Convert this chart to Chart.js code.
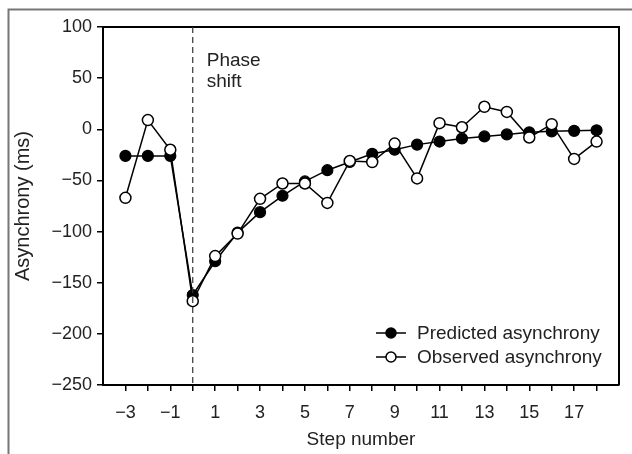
<!DOCTYPE html>
<html>
<head>
<meta charset="utf-8">
<script src="https://cdn.jsdelivr.net/npm/chart.js@4.4.1/dist/chart.umd.min.js"></script>
<style>
  html, body { margin: 0; padding: 0; background: #fff; }
  #wrap { width: 632px; height: 454px; position: relative; }
</style>
</head>
<body>
<div id="wrap"><canvas id="chart"></canvas></div>
<script>
// step numbers relative to the phase shift
const steps = [-3, -2, -1, 0, 1, 2, 3, 4, 5, 6, 7, 8, 9, 10, 11, 12, 13, 14, 15, 16, 17, 18];
const predicted = [-26, -26, -26, -162, -129, -101, -81, -65, -51, -40, -32, -24, -20, -15, -12, -9, -7, -5, -3, -2, -1.5, -1];
const observed = [-67, 9, -20, -168, -124, -102, -68, -53, -53, -72, -31, -32, -14, -48, 6, 2, 22, 17, -8, 5, -29, -12];
const xTickLabels = [-3, -1, 1, 3, 5, 7, 9, 11, 13, 15, 17];
const seriesNames = ['Predicted asynchrony', 'Observed asynchrony'];

const FONT = 'Liberation Sans, Arial, sans-serif';
const minus = v => String(v).replace('-', '\u2212');

// frame, top/right border, phase-shift marker and legend
const extras = {
  id: 'extras',
  beforeDraw(chart) {
    const ctx = chart.ctx;
    ctx.save();
    ctx.strokeStyle = '#777';
    ctx.lineWidth = 2;
    ctx.strokeRect(8.5, 9.5, 700, 600);
    ctx.restore();
  },
  afterDraw(chart) {
    const {ctx, chartArea: a, scales: {x, y}} = chart;
    ctx.save();
    // top + right edges of the plot box
    ctx.strokeStyle = '#000';
    ctx.lineWidth = 2;
    ctx.beginPath();
    ctx.moveTo(a.left, a.top);
    ctx.lineTo(a.right, a.top);
    ctx.lineTo(a.right, a.bottom);
    ctx.stroke();

    // phase shift dashed line
    const px = x.getPixelForValue(0);
    ctx.strokeStyle = '#333';
    ctx.lineWidth = 1.2;
    ctx.setLineDash([6, 4]);
    ctx.beginPath();
    ctx.moveTo(px, a.top);
    ctx.lineTo(px, a.bottom);
    ctx.stroke();
    ctx.setLineDash([]);

    ctx.fillStyle = '#222';
    ctx.font = '19px ' + FONT;
    ctx.textBaseline = 'alphabetic';
    ctx.textAlign = 'left';
    ctx.fillText('Phase', px + 14, a.top + 39);
    ctx.fillText('shift', px + 14, a.top + 60);

    // legend
    const ds = chart.data.datasets;
    const lx = a.right - 243;
    [0, 1].forEach(i => {
      const cy = a.bottom - 52 + i * 24;
      ctx.strokeStyle = '#000';
      ctx.lineWidth = 1.5;
      ctx.beginPath();
      ctx.moveTo(lx, cy);
      ctx.lineTo(lx + 30, cy);
      ctx.stroke();
      ctx.beginPath();
      ctx.arc(lx + 15, cy, 5, 0, Math.PI * 2);
      ctx.fillStyle = ds[i].pointBackgroundColor;
      ctx.fill();
      ctx.stroke();
      ctx.fillStyle = '#222';
      ctx.textBaseline = 'middle';
      ctx.fillText(ds[i].label, lx + 41, cy + 1);
    });
    ctx.restore();
  }
};

new Chart(document.getElementById('chart'), {
  type: 'line',
  data: {
    datasets: [
      {
        label: seriesNames[0],
        data: steps.map((s, i) => ({x: s, y: predicted[i]})),
        borderColor: '#000',
        borderWidth: 1.5,
        pointRadius: 5.5,
        pointBackgroundColor: '#000',
        pointBorderColor: '#000',
        pointBorderWidth: 1.2,
        order: 2
      },
      {
        label: seriesNames[1],
        data: steps.map((s, i) => ({x: s, y: observed[i]})),
        borderColor: '#000',
        borderWidth: 1.5,
        pointRadius: 5.5,
        pointBackgroundColor: '#fff',
        pointBorderColor: '#000',
        pointBorderWidth: 1.5,
        order: 1
      }
    ]
  },
  options: {
    responsive: true,
    maintainAspectRatio: false,
    animation: false,
    events: [],
    layout: { padding: { top: 27, right: 13, left: 0, bottom: 0 } },
    plugins: { legend: { display: false }, tooltip: { enabled: false } },
    scales: {
      x: {
        type: 'linear',
        min: -4,
        max: 19,
        afterFit: s => { s.height = 69; },
        border: { color: '#000', width: 2 },
        grid: {
          drawOnChartArea: false,
          tickLength: 6,
          lineWidth: 1.5,
          color: c => (c.tick && (c.tick.value === -4 || c.tick.value === 19)) ? 'rgba(0,0,0,0)' : '#000'
        },
        ticks: {
          stepSize: 1,
          autoSkip: false,
          maxRotation: 0,
          padding: 11,
          color: '#222',
          font: { family: FONT, size: 18 },
          callback: v => xTickLabels.includes(v) ? minus(v) : ''
        },
        title: {
          display: true,
          text: 'Step number',
          color: '#222',
          font: { family: FONT, size: 19 },
          padding: { top: 0, bottom: 3 }
        }
      },
      y: {
        min: -250,
        max: 100,
        afterFit: s => { s.width = 103; },
        border: { color: '#000', width: 2 },
        grid: { drawOnChartArea: false, tickLength: 6, lineWidth: 1.5, color: '#000' },
        ticks: {
          stepSize: 50,
          padding: 5,
          color: '#222',
          font: { family: FONT, size: 18 },
          callback: v => minus(v)
        },
        title: {
          display: true,
          text: 'Asynchrony (ms)',
          color: '#222',
          font: { family: FONT, size: 20 },
          padding: { top: 11, bottom: 0 }
        }
      }
    }
  },
  plugins: [extras]
});
</script>
</body>
</html>
